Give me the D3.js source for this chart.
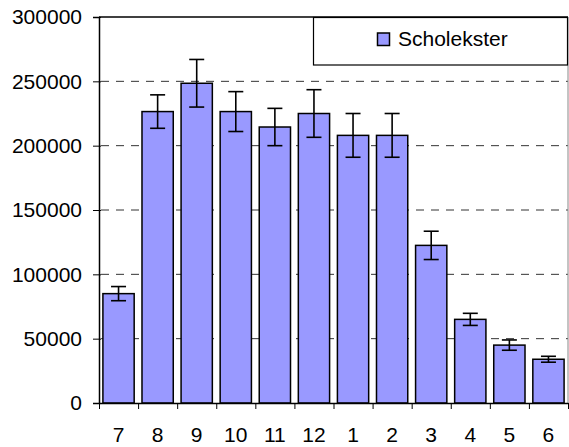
<!DOCTYPE html>
<html>
<head>
<meta charset="utf-8">
<script src="https://cdn.jsdelivr.net/npm/d3@7"></script>
<style>
  html, body { margin: 0; padding: 0; background: #fff; }
  svg { display: block; }
  text { font-family: "Liberation Sans", Arial, sans-serif; fill: #000; }
</style>
</head>
<body>
<svg id="chart" width="569" height="447"></svg>
<script>
// ---- data ----
const categories = ["7","8","9","10","11","12","1","2","3","4","5","6"];
const values     = [85000, 226500, 248500, 226500, 214500, 225000, 208000, 208000, 122500, 65000, 45000, 34000];
const errors     = [5500, 13000, 18500, 15500, 14500, 18500, 17000, 17000, 11000, 4700, 4000, 2300];
const yTicks     = [0, 50000, 100000, 150000, 200000, 250000, 300000];
const seriesName = "Scholekster";

// ---- layout ----
const pLeft = 99, pRight = 568, pTop = 17, pBottom = 403;
const svg = d3.select("#chart");

const x = d3.scaleBand().domain(categories).range([pLeft, pRight]).paddingInner(0.2).paddingOuter(0.1);
const xEdge = d3.scaleLinear().domain([0, categories.length]).range([pLeft, pRight]);
const y = d3.scaleLinear().domain([0, 300000]).range([pBottom, pTop]);

// gridlines
svg.append("g").selectAll("line")
  .data(yTicks.filter(t => t > 0 && t < 300000))
  .join("line")
  .attr("x1", pLeft + 2).attr("x2", pRight)
  .attr("y1", d => y(d)).attr("y2", d => y(d))
  .attr("stroke", "#333").attr("stroke-width", 1)
  .attr("stroke-dasharray", "8,7");

// top & right borders
svg.append("line").attr("x1", pLeft).attr("x2", pRight).attr("y1", y(300000)).attr("y2", y(300000))
  .attr("stroke", "#000").attr("stroke-width", 1.5);
svg.append("line").attr("x1", pRight).attr("x2", pRight).attr("y1", pTop).attr("y2", pBottom)
  .attr("stroke", "#888").attr("stroke-width", 1);

// bars
svg.append("g").selectAll("rect")
  .data(categories)
  .join("rect")
  .attr("x", d => x(d))
  .attr("width", x.bandwidth())
  .attr("y", (d, i) => y(values[i]))
  .attr("height", (d, i) => y(0) - y(values[i]))
  .attr("fill", "#9999FF")
  .attr("stroke", "#000").attr("stroke-width", 1.5);

// error bars
const eb = svg.append("g").attr("stroke", "#000").attr("stroke-width", 1.6);
categories.forEach((c, i) => {
  const cx = x(c) + x.bandwidth() / 2;
  const y1 = y(values[i] + errors[i]), y2 = y(values[i] - errors[i]);
  eb.append("line").attr("x1", cx).attr("x2", cx).attr("y1", y1).attr("y2", y2);
  eb.append("line").attr("x1", cx - 7.5).attr("x2", cx + 7.5).attr("y1", y1).attr("y2", y1);
  eb.append("line").attr("x1", cx - 7.5).attr("x2", cx + 7.5).attr("y1", y2).attr("y2", y2);
});

// y axis
const yAxis = svg.append("g").attr("transform", `translate(${pLeft},0)`)
  .call(d3.axisLeft(y).tickValues(yTicks).tickFormat(d3.format("d")).tickSize(6).tickPadding(11));
yAxis.select(".domain").attr("stroke", "#000").attr("stroke-width", 1.5);
yAxis.selectAll(".tick line").attr("stroke", "#000").attr("x2", 2).attr("x1", -6);
yAxis.selectAll("text").attr("font-size", "21px").attr("font-family", "Liberation Sans, Arial, sans-serif");

// x axis: boundary ticks
const xTickAxis = svg.append("g").attr("transform", `translate(0,${pBottom})`)
  .call(d3.axisBottom(xEdge).tickValues(d3.range(categories.length + 1)).tickFormat("").tickSize(6).tickSizeOuter(0));
xTickAxis.select(".domain").attr("stroke", "#000").attr("stroke-width", 1.5);
xTickAxis.selectAll(".tick line").attr("stroke", "#000");

// x axis: labels
const xLab = svg.append("g").attr("transform", `translate(0,${pBottom})`)
  .call(d3.axisBottom(x).tickSize(0).tickPadding(24));
xLab.select(".domain").remove();
xLab.selectAll("text").attr("font-size", "21px").attr("font-family", "Liberation Sans, Arial, sans-serif");

// legend
const lg = svg.append("g");
lg.append("rect").attr("x", 313.5).attr("y", 17.5).attr("width", 254).attr("height", 47.5)
  .attr("fill", "#fff").attr("stroke", "#000").attr("stroke-width", 1.2);
lg.append("rect").attr("x", 377.5).attr("y", 33).attr("width", 12).attr("height", 12.5)
  .attr("fill", "#9999FF").attr("stroke", "#000").attr("stroke-width", 1.5);
lg.append("text").attr("x", 398).attr("y", 45.5).attr("font-size", "21px").text(seriesName);
</script>
</body>
</html>
